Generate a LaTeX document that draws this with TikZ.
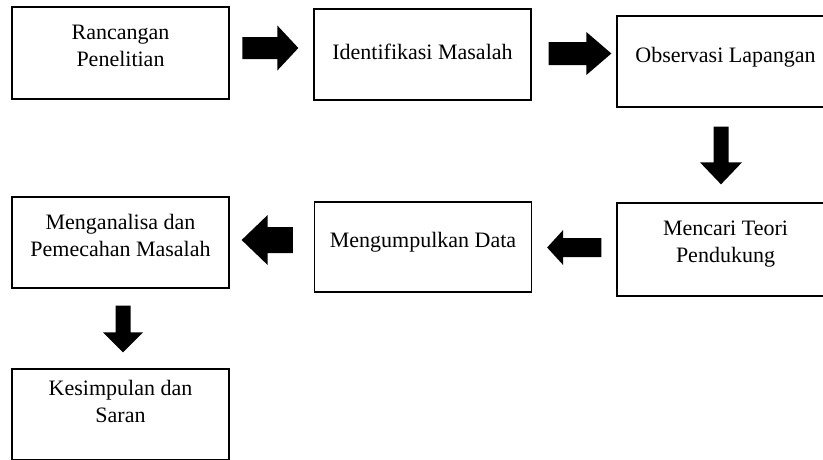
\documentclass[tikz,border=0pt]{standalone}
\usepackage{fontspec}
\setmainfont{Liberation Serif}
\usetikzlibrary{calc}
\begin{document}
\begin{tikzpicture}[x=1pt,y=-1pt,
  box/.style={draw=black, line width=1.3pt, rectangle, inner sep=0pt, minimum width=217pt},
  txt/.style={align=center, inner sep=0pt, font=\fontsize{22}{27}\selectfont, anchor=base},
  blk/.style={fill=black, draw=none}]
\useasboundingbox (0,0) rectangle (823,459);
\clip (0,0) rectangle (823,459);
% boxes
\node[box, minimum height=92pt] (b1) at (120.5,53) {};
\node[box, minimum height=91pt] (b2) at (422.5,54.5) {};
\node[box, minimum height=91pt] (b3) at (725.5,61.5) {};
\node[box, minimum height=93pt] (b4) at (725.5,249.5) {};
\node[box, minimum height=90pt] (b5) at (423,247) {};
\node[box, minimum height=91pt] (b6) at (120.5,242.5) {};
\node[box, minimum height=91pt] (b7) at (120.5,414.5) {};
% texts (base anchor = baseline of the last line)
\node[txt] (t1) at ($(b1.north)+(0,60)$) {Rancangan\\Penelitian};
\node[txt] (t2) at ($(b2.north)+(0,51)$) {Identifikasi Masalah};
\node[txt] (t3) at ($(b3.north)+(0,47)$) {Observasi Lapangan};
\node[txt] (t4) at ($(b4.north)+(0,60)$) {Mencari Teori\\Pendukung};
\node[txt] (t5) at ($(b5.north)+(0,46)$) {Mengumpulkan Data};
\node[txt] (t6) at ($(b6.north)+(0,60)$) {Menganalisa dan\\Pemecahan Masalah};
\node[txt] (t7) at ($(b7.north)+(0,54)$) {Kesimpulan dan\\Saran};
% arrow end points
\coordinate (a1s) at ($(b1.east)+(12.7,-5)$);
\coordinate (a1t) at ($(b2.west)+(-15,-6.5)$);
\coordinate (a2s) at ($(b2.east)+(17,-1)$);
\coordinate (a2t) at ($(b3.west)+(-5,-8)$);
\coordinate (a3s) at ($(b3.south)+(-4.5,19)$);
\coordinate (a3t) at ($(b4.north)+(-4.5,-18)$);
\coordinate (a4s) at ($(b4.west)+(-15,-2)$);
\coordinate (a4t) at ($(b5.east)+(15,0.5)$);
\coordinate (a5s) at ($(b5.west)+(-21,-7)$);
\coordinate (a5t) at ($(b6.east)+(12,-2.5)$);
\coordinate (a6s) at ($(b6.south)+(2.5,17)$);
\coordinate (a6t) at ($(b7.north)+(2.5,-16)$);
% right arrows
\fill[blk] ($(a1s)+(0,-11)$) -- ($(a1t)+(-21,-11)$) -- ($(a1t)+(-21,-22.5)$) -- (a1t)
  -- ($(a1t)+(-21,22.5)$) -- ($(a1t)+(-21,11)$) -- ($(a1s)+(0,11)$) -- cycle;
\fill[blk] ($(a2s)+(0,-11.5)$) -- ($(a2t)+(-25,-11.5)$) -- ($(a2t)+(-25,-21.5)$) -- (a2t)
  -- ($(a2t)+(-25,21.5)$) -- ($(a2t)+(-25,11.5)$) -- ($(a2s)+(0,11.5)$) -- cycle;
% down arrows
\fill[blk] ($(a3s)+(-7.5,0)$) -- ($(a3t)+(-7.5,-22)$) -- ($(a3t)+(-21,-22)$) -- (a3t)
  -- ($(a3t)+(21,-22)$) -- ($(a3t)+(7.5,-22)$) -- ($(a3s)+(7.5,0)$) -- cycle;
\fill[blk] ($(a6s)+(-7.5,0)$) -- ($(a6t)+(-7.5,-20)$) -- ($(a6t)+(-20,-20)$) -- (a6t)
  -- ($(a6t)+(20,-20)$) -- ($(a6t)+(7.5,-20)$) -- ($(a6s)+(7.5,0)$) -- cycle;
% left arrows
\fill[blk] ($(a4s)+(0,-9.5)$) -- ($(a4t)+(16,-9.5)$) -- ($(a4t)+(16,-17.5)$) -- (a4t)
  -- ($(a4t)+(16,17.5)$) -- ($(a4t)+(16,9.5)$) -- ($(a4s)+(0,9.5)$) -- cycle;
\fill[blk] ($(a5s)+(0,-13)$) -- ($(a5t)+(26,-13)$) -- ($(a5t)+(26,-25)$) -- (a5t)
  -- ($(a5t)+(26,25)$) -- ($(a5t)+(26,13)$) -- ($(a5s)+(0,13)$) -- cycle;
\end{tikzpicture}
\end{document}
